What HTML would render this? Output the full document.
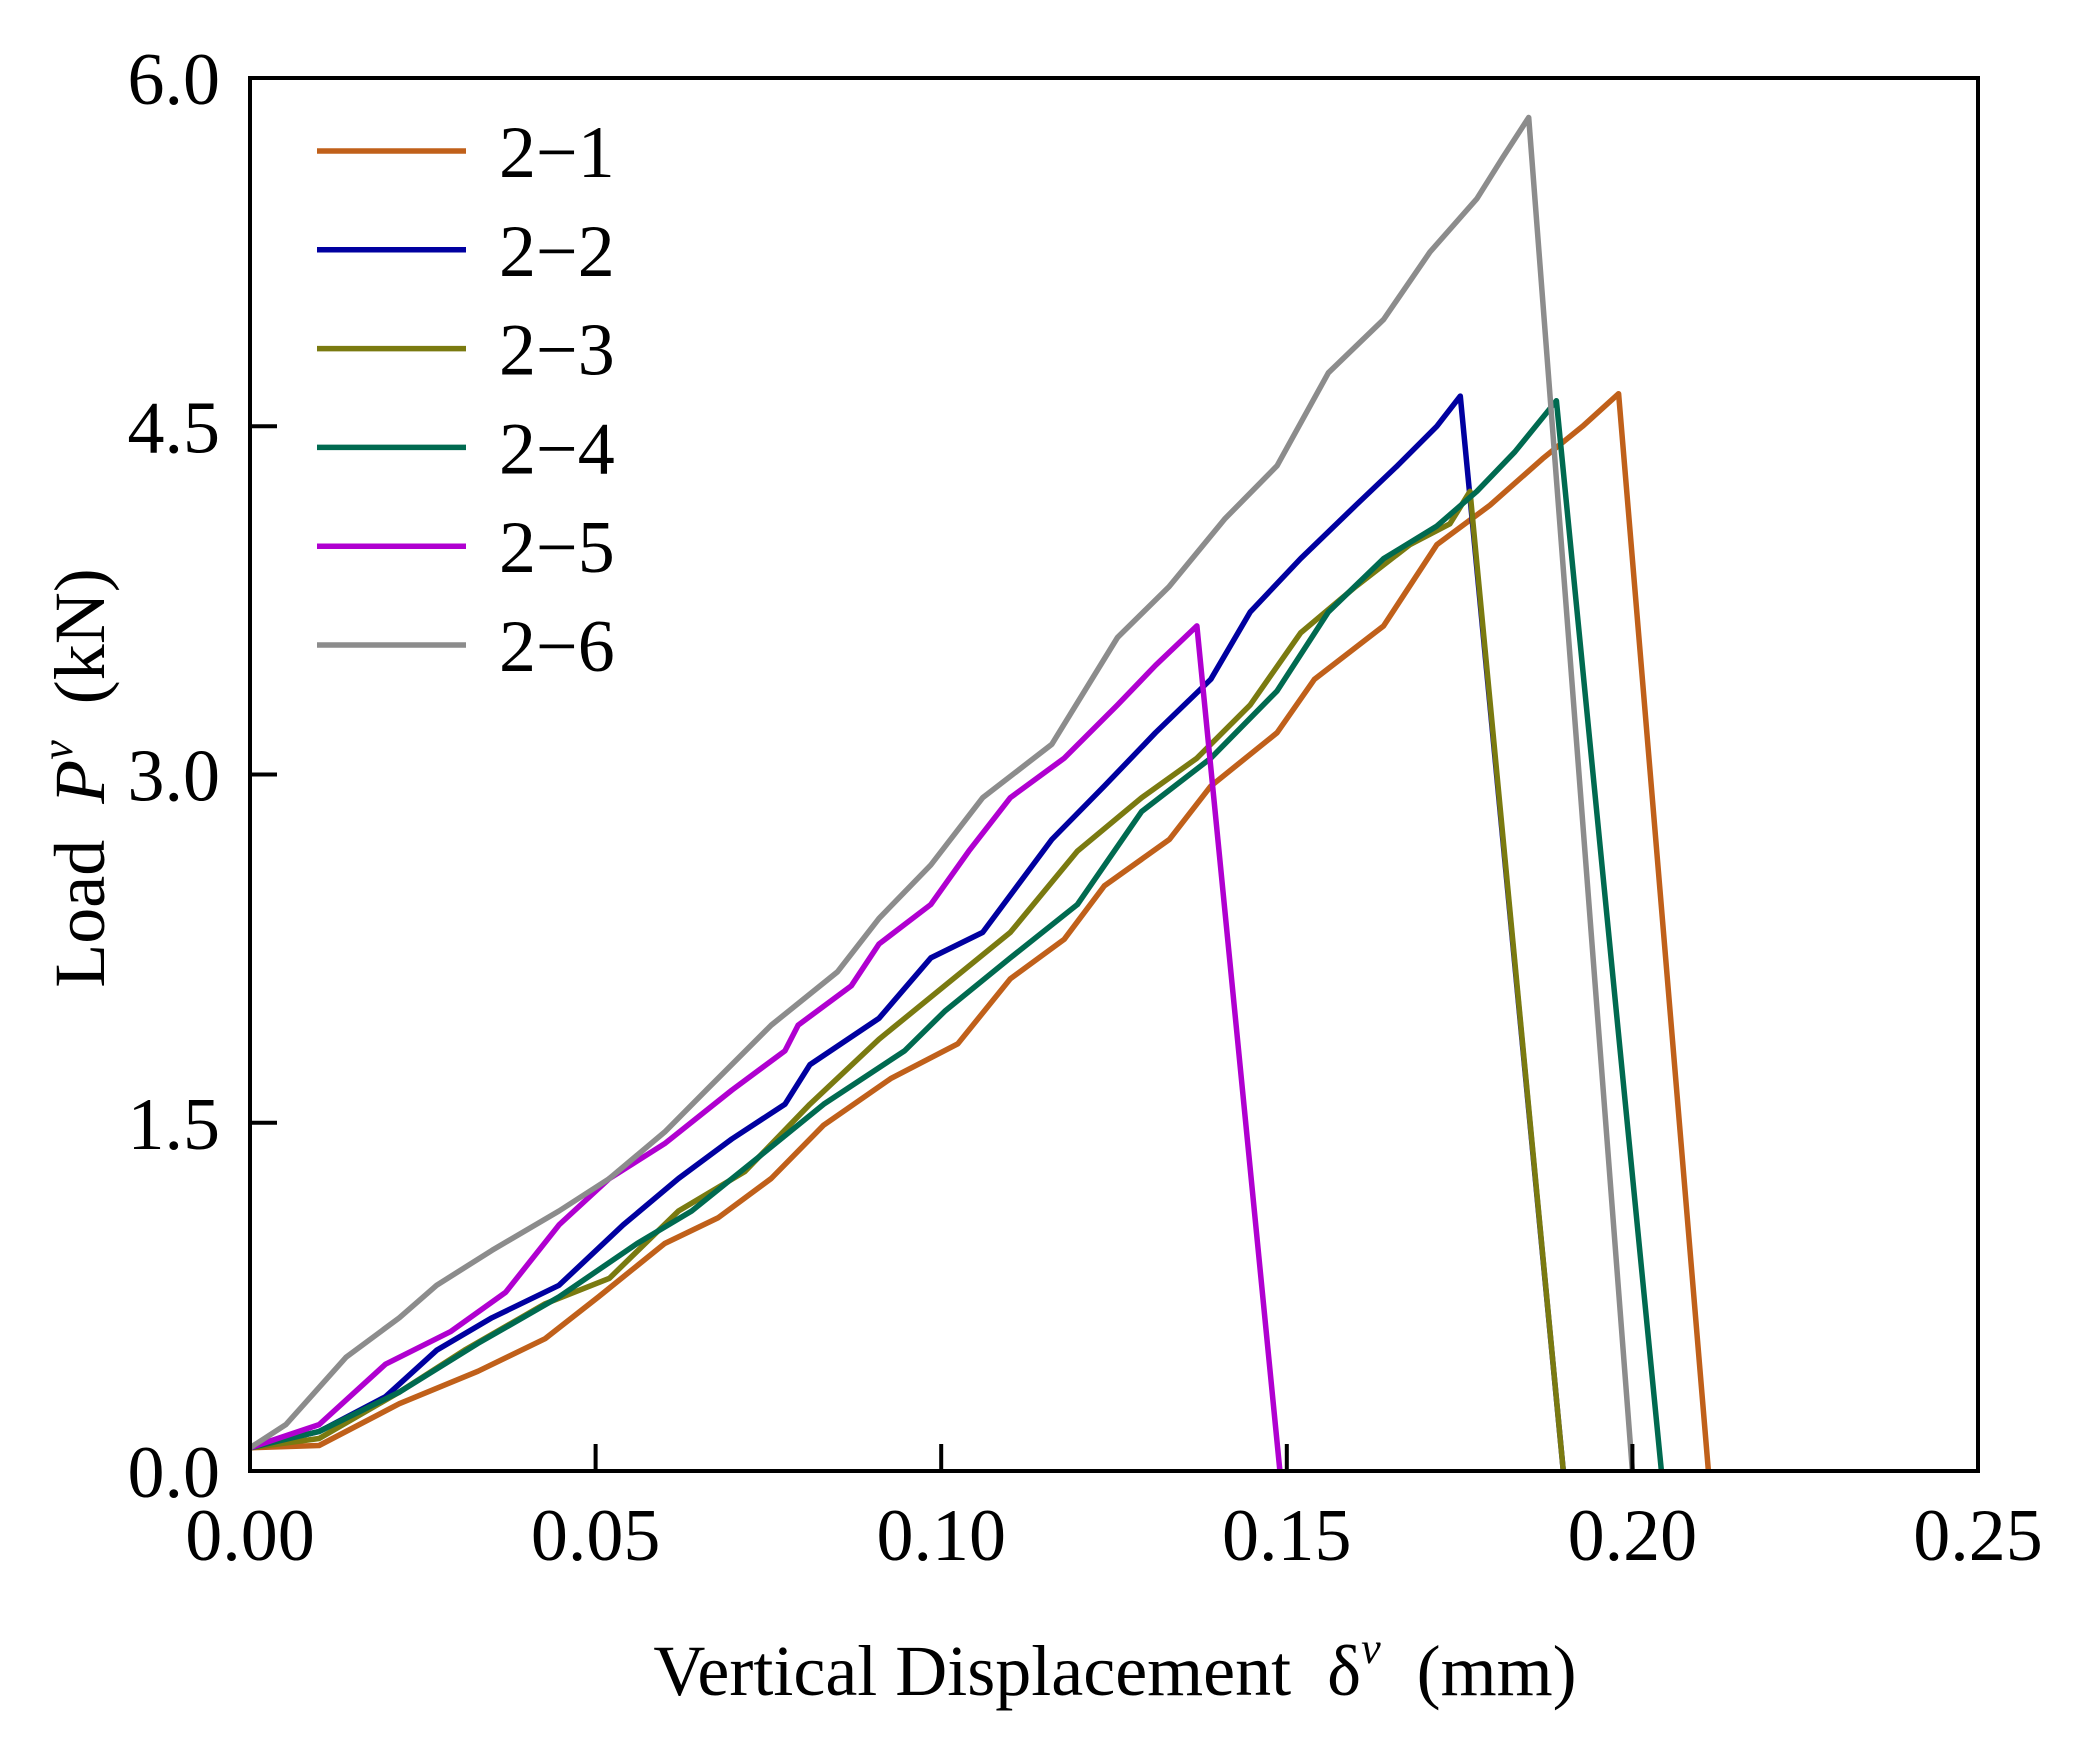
<!DOCTYPE html>
<html><head><meta charset="utf-8"><style>
html,body{margin:0;padding:0;background:#fff;}
svg{display:block;font-family:"Liberation Serif",serif;}
text{white-space:pre;}
</style></head><body>
<svg id="chart" width="2086" height="1746" viewBox="0 0 2086 1746" xmlns="http://www.w3.org/2000/svg" xml:space="preserve">
<g id="series"></g>
<rect x="250" y="78" width="1728" height="1393" fill="none" stroke="#000" stroke-width="4"/>
<g id="ticks"></g>
<text x="1115" y="1695" font-size="72" text-anchor="middle">Vertical Displacement  δ<tspan font-size="44" dy="-32" font-style="italic">v</tspan><tspan dy="32">  (mm)</tspan></text>
<text transform="translate(104,778) rotate(-90)" font-size="72" text-anchor="middle">Load  <tspan font-style="italic">P</tspan><tspan font-size="44" dy="-32" font-style="italic">v</tspan><tspan dy="32">  (kN)</tspan></text>
<g id="legend"></g>
</svg>
<script>
const xTicks=[0,0.05,0.10,0.15,0.20,0.25];
const xTickLabels=["0.00","0.05","0.10","0.15","0.20","0.25"];
const yTicks=[0,1.5,3,4.5,6];
const yTickLabels=["0.0","1.5","3.0","4.5","6.0"];
const seriesNames=["2−1","2−2","2−3","2−4","2−5","2−6"];
const seriesColors=["#c0601a","#0000a0","#7a7a10","#006a50","#b000d0","#8c8c8c"];
const s1x=[0,0.01,0.0216,0.033,0.0427,0.0504,0.060,0.0677,0.0754,0.083,0.0927,0.1024,0.110,0.1178,0.1236,0.133,0.139,0.1486,0.154,0.164,0.1717,0.1794,0.187,0.1928,0.198,0.211];
const s1y=[0.1,0.11,0.29,0.43,0.57,0.75,0.98,1.09,1.26,1.49,1.69,1.84,2.12,2.29,2.52,2.72,2.95,3.18,3.41,3.64,3.99,4.16,4.36,4.50,4.64,0];
const s2x=[0,0.01,0.0196,0.027,0.035,0.0447,0.054,0.062,0.0697,0.0774,0.081,0.091,0.0985,0.106,0.116,0.1236,0.131,0.139,0.1447,0.152,0.160,0.166,0.1717,0.1751,0.190];
const s2y=[0.1,0.17,0.32,0.52,0.66,0.80,1.06,1.26,1.43,1.58,1.75,1.95,2.21,2.32,2.72,2.95,3.18,3.41,3.70,3.93,4.16,4.33,4.50,4.63,0];
const s3x=[0,0.01,0.0216,0.031,0.0427,0.052,0.062,0.0716,0.081,0.091,0.1005,0.110,0.1197,0.129,0.137,0.1447,0.152,0.160,0.1678,0.1736,0.1765,0.190];
const s3y=[0.1,0.14,0.34,0.52,0.72,0.83,1.12,1.29,1.58,1.86,2.09,2.32,2.67,2.90,3.07,3.30,3.61,3.81,3.99,4.08,4.22,0];
const s4x=[0,0.01,0.0216,0.033,0.0447,0.056,0.0639,0.0735,0.083,0.0947,0.1005,0.110,0.1197,0.129,0.139,0.1486,0.156,0.164,0.1717,0.1775,0.183,0.189,0.2042];
const s4y=[0.1,0.17,0.34,0.55,0.75,0.98,1.12,1.35,1.58,1.81,1.98,2.21,2.44,2.84,3.07,3.36,3.70,3.93,4.07,4.22,4.39,4.61,0];
const s5x=[0,0.01,0.0196,0.029,0.037,0.0447,0.052,0.060,0.0697,0.0774,0.0793,0.087,0.091,0.0985,0.104,0.110,0.1178,0.1255,0.131,0.137,0.149];
const s5y=[0.1,0.2,0.46,0.60,0.77,1.06,1.26,1.41,1.64,1.81,1.92,2.09,2.27,2.44,2.67,2.90,3.07,3.30,3.47,3.64,0];
const s6x=[0,0.0052,0.0139,0.0216,0.027,0.035,0.0447,0.052,0.060,0.066,0.0754,0.085,0.091,0.0985,0.106,0.116,0.1255,0.133,0.141,0.1486,0.156,0.164,0.1707,0.1775,0.1813,0.185,0.200];
const s6y=[0.1,0.2,0.49,0.66,0.80,0.95,1.12,1.26,1.46,1.64,1.92,2.15,2.38,2.61,2.90,3.13,3.59,3.81,4.10,4.33,4.73,4.96,5.25,5.48,5.66,5.83,0];
const allX=[s1x,s2x,s3x,s4x,s5x,s6x];
const allY=[s1y,s2y,s3y,s4y,s5y,s6y];

const NS="http://www.w3.org/2000/svg";
const L=250,R=1978,T=78,B=1471;
function sx(v){return L+(v-0)/(0.25-0)*(R-L);}
function sy(v){return B-(v-0)/(6-0)*(B-T);}

const sg=document.getElementById('series');
for(let i=0;i<allX.length;i++){
  const p=document.createElementNS(NS,'polyline');
  p.setAttribute('points',allX[i].map((x,j)=>sx(x).toFixed(1)+','+sy(allY[i][j]).toFixed(1)).join(' '));
  p.setAttribute('fill','none');p.setAttribute('stroke',seriesColors[i]);
  p.setAttribute('stroke-width','5.5');p.setAttribute('stroke-linejoin','round');
  
  
  sg.appendChild(p);
}
const tg=document.getElementById('ticks');
xTicks.forEach((v,i)=>{
  const l=document.createElementNS(NS,'line');
  l.setAttribute('x1',sx(v));l.setAttribute('x2',sx(v));l.setAttribute('y1',B);l.setAttribute('y2',B-27);
  l.setAttribute('stroke','#000');l.setAttribute('stroke-width','4');
  
  
  tg.appendChild(l);
  const t=document.createElementNS(NS,'text');
  t.setAttribute('x',sx(v));t.setAttribute('y',1560);t.setAttribute('font-size','74');t.setAttribute('text-anchor','middle');
  t.textContent=xTickLabels[i];
  
  
  tg.appendChild(t);
});
yTicks.forEach((v,i)=>{
  const l=document.createElementNS(NS,'line');
  l.setAttribute('x1',L);l.setAttribute('x2',L+27);l.setAttribute('y1',sy(v));l.setAttribute('y2',sy(v));
  l.setAttribute('stroke','#000');l.setAttribute('stroke-width','4');
  
  
  tg.appendChild(l);
  const t=document.createElementNS(NS,'text');
  t.setAttribute('x',220);t.setAttribute('y',sy(v)+26);t.setAttribute('font-size','74');t.setAttribute('text-anchor','end');
  t.textContent=yTickLabels[i];
  
  
  tg.appendChild(t);
});
const lg=document.getElementById('legend');
seriesNames.forEach((n,i)=>{
  const y=151+i*98.8;
  const l=document.createElementNS(NS,'line');
  l.setAttribute('x1',317);l.setAttribute('x2',466);l.setAttribute('y1',y);l.setAttribute('y2',y);
  l.setAttribute('stroke',seriesColors[i]);l.setAttribute('stroke-width','5.5');
  
  
  lg.appendChild(l);
  const t=document.createElementNS(NS,'text');
  t.setAttribute('x',499);t.setAttribute('y',y+26);t.setAttribute('font-size','74');
  t.textContent=n;
  
  
  lg.appendChild(t);
});
</script>
</body></html>
